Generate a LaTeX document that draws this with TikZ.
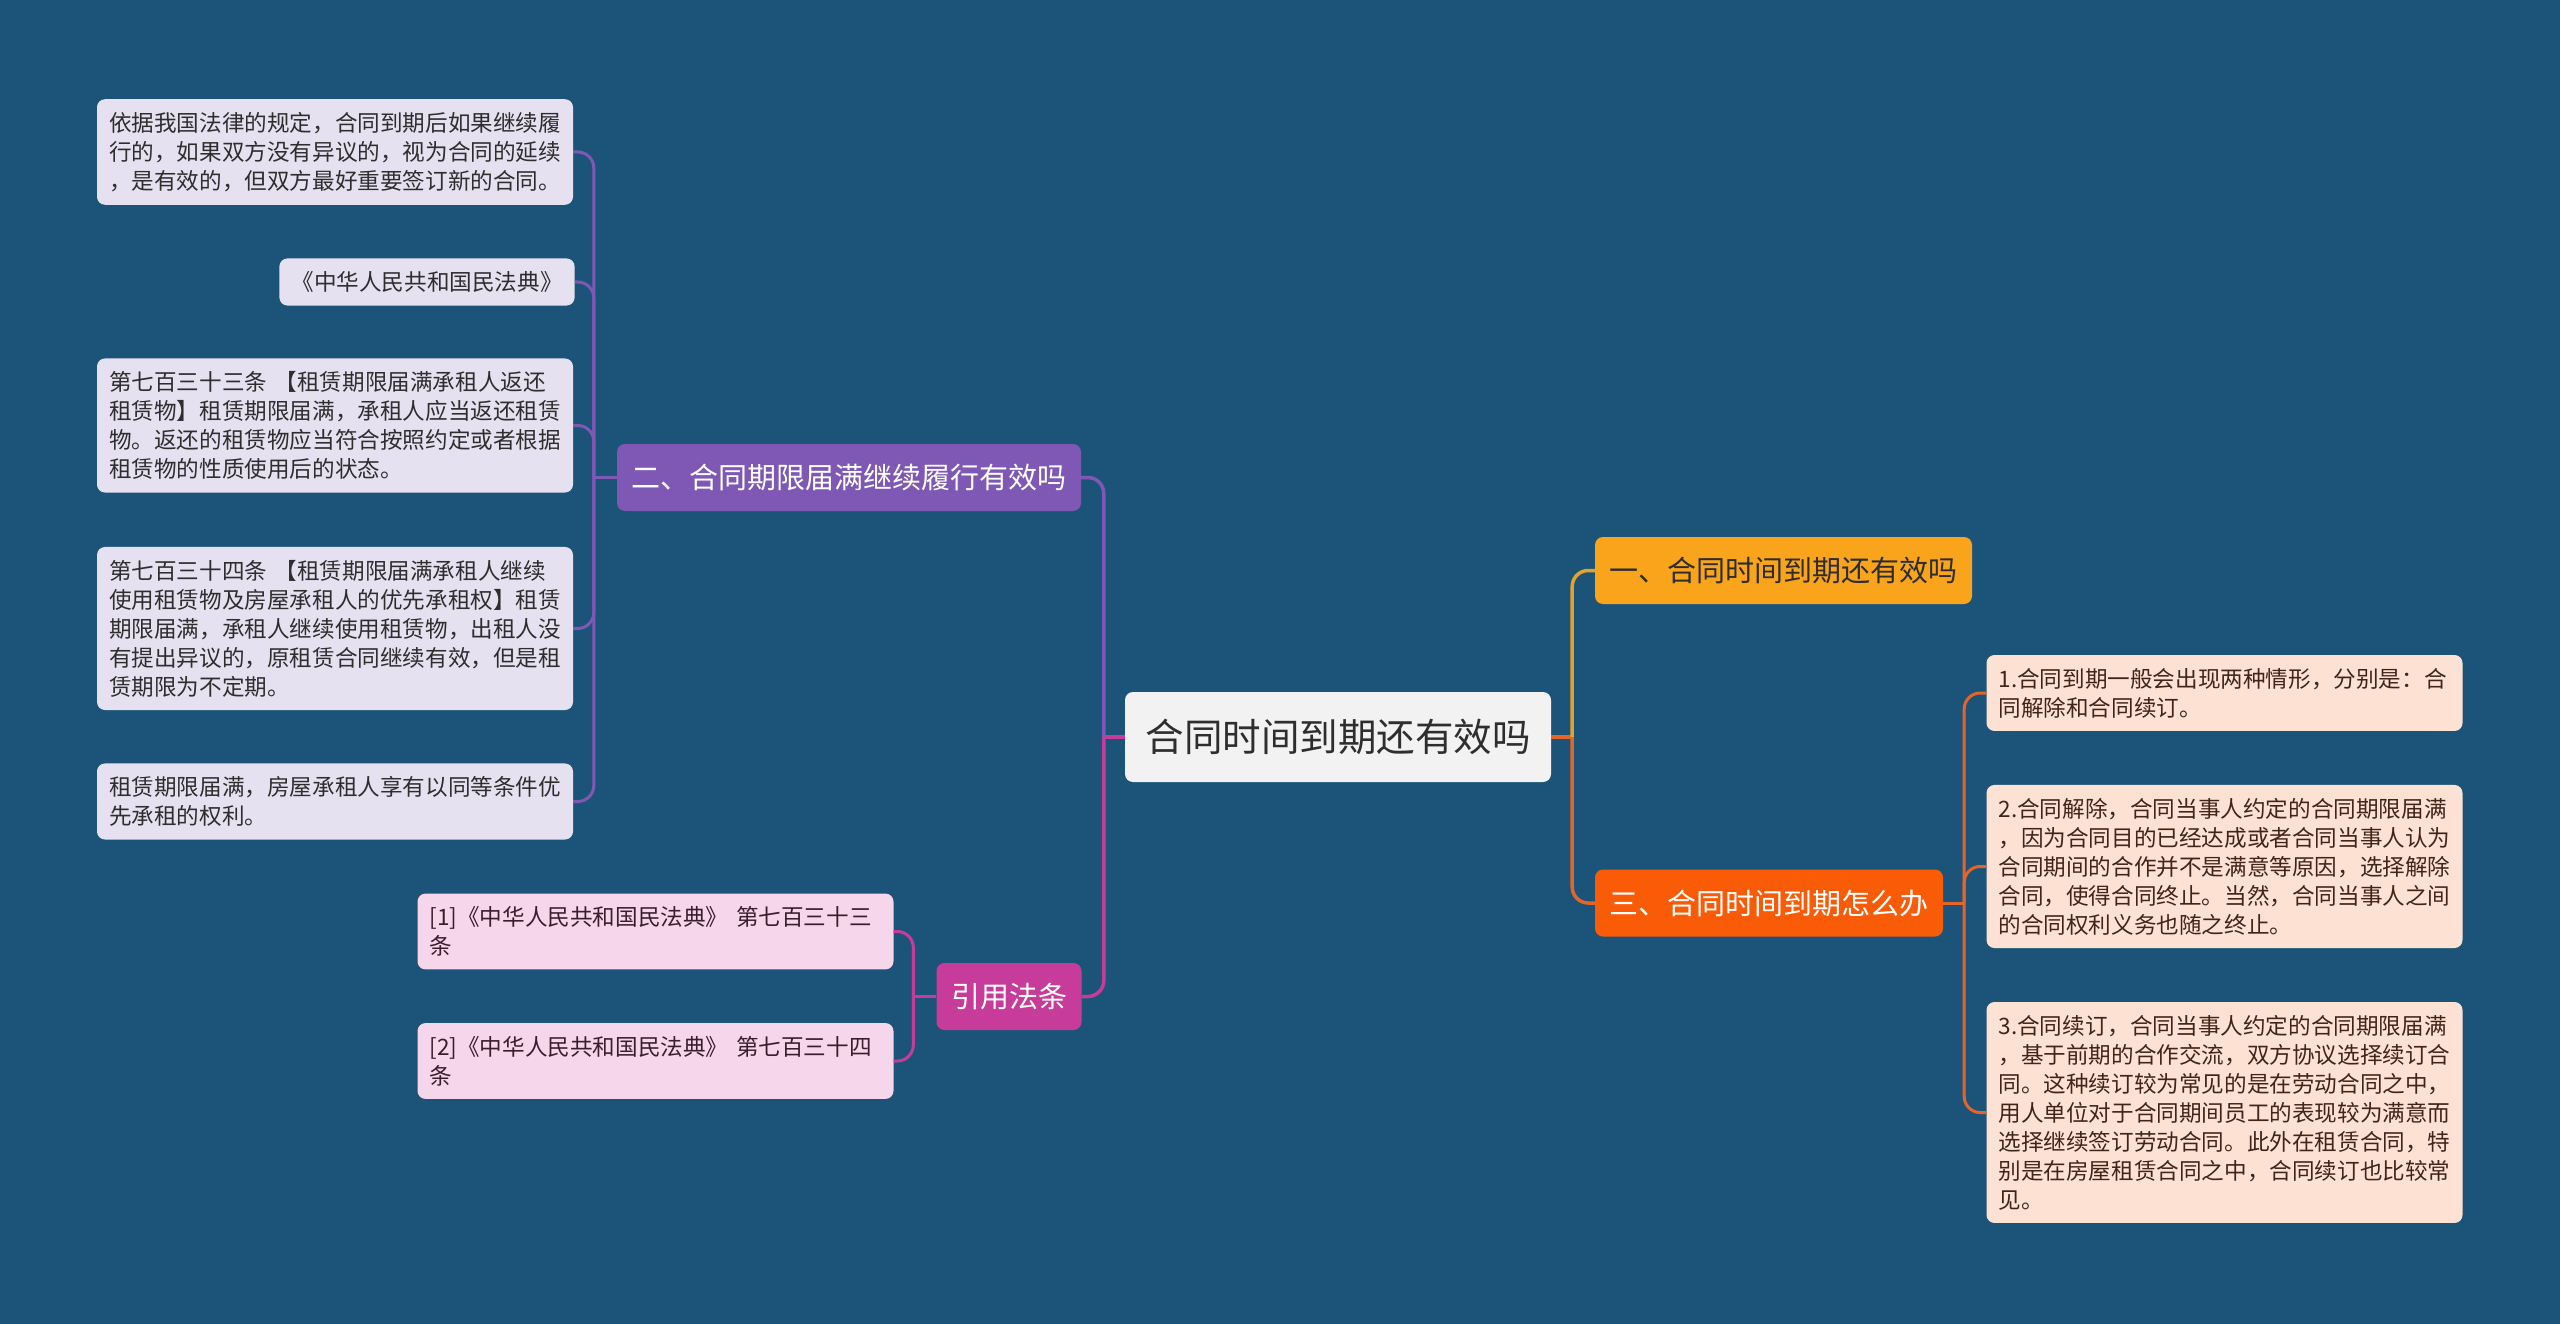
\documentclass[tikz,border=0pt]{standalone}
\usepackage{fontspec}
\setmainfont{Noto Sans CJK SC}
\definecolor{bgblue}{HTML}{1C5479}
\definecolor{rootgray}{HTML}{F2F2F2}
\definecolor{pur}{HTML}{7E58B4}
\definecolor{mag}{HTML}{C73C9A}
\definecolor{yel}{HTML}{FAA41C}
\definecolor{org}{HTML}{FA5B06}
\definecolor{lineyel}{HTML}{E3A32A}
\definecolor{lineorg}{HTML}{E4642A}
\definecolor{leafpur}{HTML}{E6E1F1}
\definecolor{leafmag}{HTML}{F5D6EA}
\definecolor{leaforg}{HTML}{FDE2D3}
\definecolor{txtdark}{HTML}{2E2E2E}
\definecolor{txtbrown}{HTML}{40261A}
\definecolor{txtplum}{HTML}{3A1E30}
\begin{document}
\begin{tikzpicture}[x=1pt,y=-1pt,
  box/.style={rounded corners=8pt,inner xsep=12pt,inner ysep=13pt,align=left,
    font=\fontsize{22.6}{29}\selectfont},
  leafL/.style={box,fill=leafpur,text=txtdark,text width=452pt},
  leafC/.style={box,fill=leafmag,text=txtplum,text width=452pt},
  leafR/.style={box,fill=leaforg,text=txtbrown,text width=452pt},
  main/.style={rounded corners=8pt,inner xsep=14.5pt,inner ysep=0pt,minimum height=67pt,
    font=\fontsize{29}{34}\selectfont},
  wire/.style={line width=3.5pt,rounded corners=16pt},
  twig/.style={line width=3pt,rounded corners=16pt}]
\fill[bgblue] (0,0) rectangle (2560,1324);

% centre and main branches
\node[rounded corners=8pt,fill=rootgray,text=txtdark,inner xsep=20.5pt,minimum height=90pt,
  font=\fontsize{38.5}{44}\selectfont] (root) at (1338,737) {合同时间到期还有效吗};
\node[main,fill=yel,text=txtdark] (one) at (1783.5,570.5) {一、合同时间到期还有效吗};
\node[main,fill=org,text=white] (three) at (1769,903) {三、合同时间到期怎么办};
\node[main,fill=pur,text=white] (two) at (849,477.5) {二、合同期限届满继续履行有效吗};
\node[main,fill=mag,text=white] (cite) at (1009,996.5) {引用法条};

% leaves of two
\node[leafL] (l1) at (335,152) {依据我国法律的规定，合同到期后如果继续履\\行的，如果双方没有异议的，视为合同的延续\\，是有效的，但双方最好重要签订新的合同。};
\node[box,fill=leafpur,text=txtdark] (l2) at (427,282) {《中华人民共和国民法典》};
\node[leafL] (l3) at (335,425.5) {第七百三十三条 【租赁期限届满承租人返还\\租赁物】租赁期限届满，承租人应当返还租赁\\物。返还的租赁物应当符合按照约定或者根据\\租赁物的性质使用后的状态。};
\node[leafL] (l4) at (335,628.5) {第七百三十四条 【租赁期限届满承租人继续\\使用租赁物及房屋承租人的优先承租权】租赁\\期限届满，承租人继续使用租赁物，出租人没\\有提出异议的，原租赁合同继续有效，但是租\\赁期限为不定期。};
\node[leafL] (l5) at (335,801.5) {租赁期限届满，房屋承租人享有以同等条件优\\先承租的权利。};

% leaves of cite
\node[leafC] (c1) at (655.5,931.5) {[1]《中华人民共和国民法典》 第七百三十三\\条};
\node[leafC] (c2) at (655.5,1061) {[2]《中华人民共和国民法典》 第七百三十四\\条};

% leaves of three
\node[leafR] (r1) at (2224.5,693) {1.合同到期一般会出现两种情形，分别是：合\\同解除和合同续订。};
\node[leafR] (r2) at (2224.5,866.5) {2.合同解除，合同当事人约定的合同期限届满\\，因为合同目的已经达成或者合同当事人认为\\合同期间的合作并不是满意等原因，选择解除\\合同，使得合同终止。当然，合同当事人之间\\的合同权利义务也随之终止。};
\node[leafR] (r3) at (2224.5,1112.5) {3.合同续订，合同当事人约定的合同期限届满\\，基于前期的合作交流，双方协议选择续订合\\同。这种续订较为常见的是在劳动合同之中，\\用人单位对于合同期间员工的表现较为满意而\\选择继续签订劳动合同。此外在租赁合同，特\\别是在房屋租赁合同之中，合同续订也比较常\\见。};

% connectors
\draw[wire,mag] (root.west) -- ++(-21,0) coordinate (jl);
\draw[wire,pur] (jl) |- (two.east);
\draw[wire,mag] (jl) |- (cite.east);
\draw[wire,lineorg] (root.east) -- ++(21,0) coordinate (jr);
\draw[wire,lineyel] (jr) |- (one.west);
\draw[wire,lineorg] (jr) |- (three.west);
\draw[twig,pur] (two.west) -- ++(-23,0) coordinate (j2);
\foreach \n in {l1,l2,l3,l4,l5} \draw[twig,pur] (j2) |- (\n.east);
\draw[twig,mag] (cite.west) -- ++(-23,0) coordinate (jc);
\foreach \n in {c1,c2} \draw[twig,mag] (jc) |- (\n.east);
\draw[twig,lineorg] (three.east) -- ++(21,0) coordinate (j3);
\foreach \n in {r1,r2,r3} \draw[twig,lineorg] (j3) |- (\n.west);
\end{tikzpicture}
\end{document}
